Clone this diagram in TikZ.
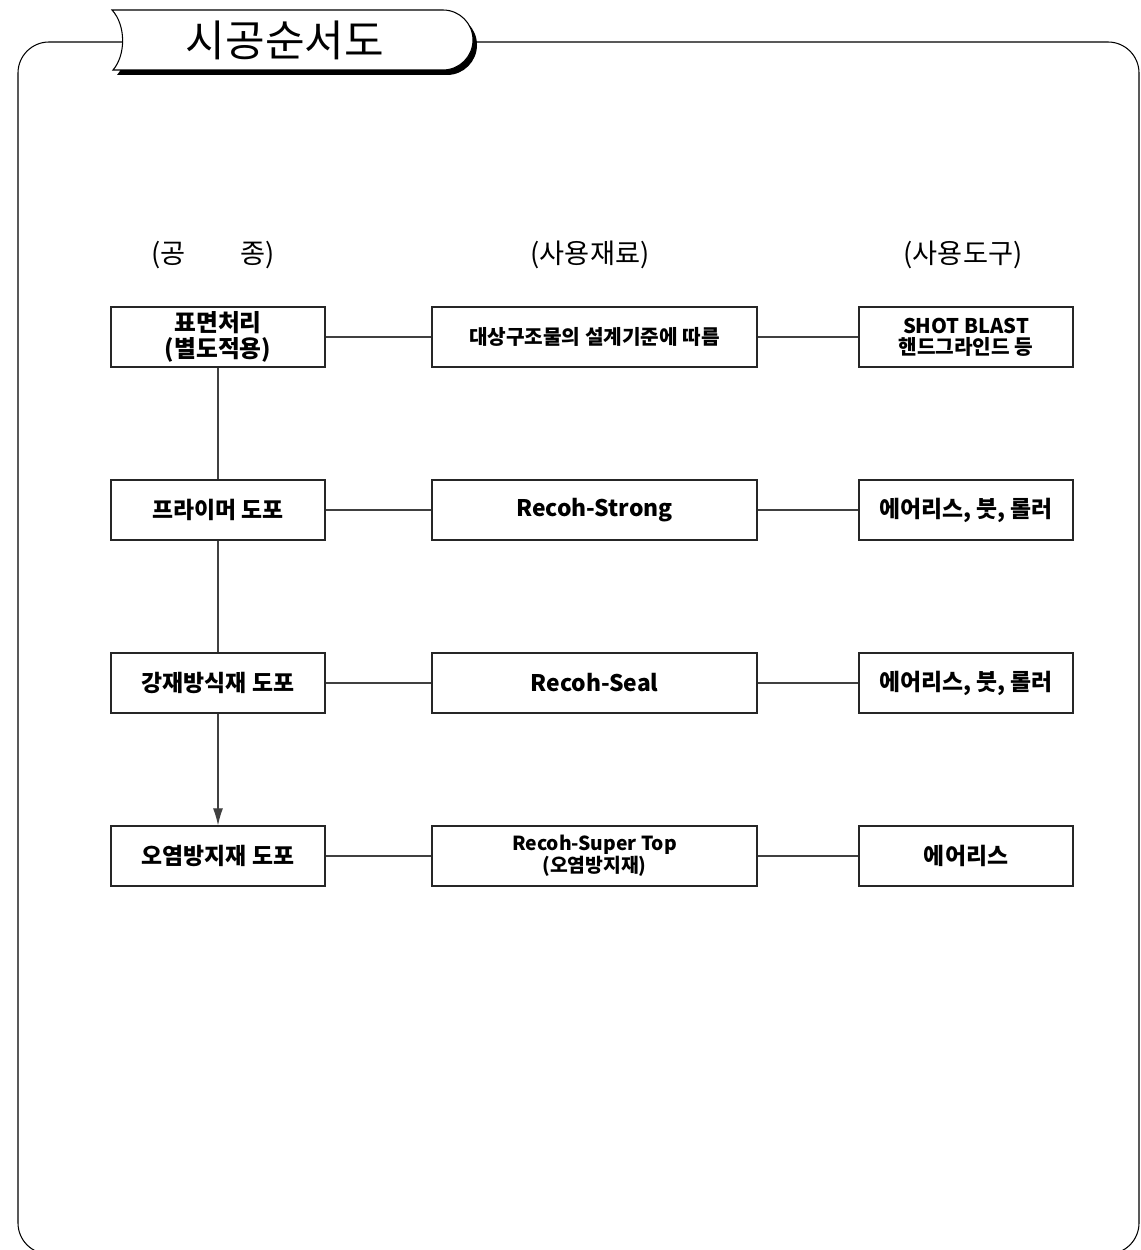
\documentclass[tikz,border=0pt]{standalone}
\usepackage{fontspec}
\setmainfont{Noto Sans CJK KR}
\usetikzlibrary{arrows.meta}
\tikzset{
  box/.style={draw=black!85, line width=0.8pt, fill=white, minimum height=1.2cm, inner sep=1pt, align=center, font=\bfseries\fontsize{13}{15}\selectfont},
  wide/.style={minimum width=6.5cm},
  narrow/.style={minimum width=4.28cm},
  conn/.style={draw=black!75, line width=0.6pt},
  head/.style={font=\fontsize{15.5}{17}\selectfont, inner sep=0pt},
}
\begin{document}
\begin{tikzpicture}[x=0.02cm, y=-0.02cm]
\useasboundingbox (0,0) rectangle (1141,1250);
% outer frame
\draw[black, line width=0.6pt, rounded corners=0.62cm] (300,42) -- (1139,42) -- (1139,1254) -- (18,1254) -- (18,42) -- cycle;
% title tab shadow
\fill[black] (116,15) -- (447,15) arc[start angle=90, end angle=-90, radius=0.6cm] -- (117,75) .. controls (130,60) and (130,30) .. (116,15) -- cycle;
% title tab
\draw[fill=white, line width=0.6pt] (112,10) -- (443,10) arc[start angle=90, end angle=-90, radius=0.6cm] -- (113,70) .. controls (126,55) and (126,25) .. (112,10) -- cycle;
\node[font=\fontsize{24.5}{26}\selectfont, inner sep=0pt] (title) at (285,40) {시공순서도};
% headers
\node[head] (h1) at (213,255) {(공\hspace{2em}종)};
\node[head] (h2) at (590,255) {(사용재료)};
\node[head] (h3) at (963,255) {(사용도구)};
% row 1
\node[box, narrow, font=\bfseries\fontsize{13.5}{14.5}\selectfont] (r1a) at (218,337) {표면처리\\(별도적용)};
\node[box, wide, font=\bfseries\fontsize{11.5}{13}\selectfont] (r1b) at (594.5,337) {대상구조물의 설계기준에 따름};
\node[box, narrow, font=\bfseries\fontsize{11.5}{12}\selectfont] (r1c) at (966,337) {SHOT BLAST\\핸드그라인드 등};
% row 2
\node[box, narrow] (r2a) at (218,510) {프라이머 도포};
\node[box, wide] (r2b) at (594.5,510) {Recoh-Strong};
\node[box, narrow] (r2c) at (966,510) {에어리스, 붓, 롤러};
% row 3
\node[box, narrow] (r3a) at (218,683) {강재방식재 도포};
\node[box, wide] (r3b) at (594.5,683) {Recoh-Seal};
\node[box, narrow] (r3c) at (966,683) {에어리스, 붓, 롤러};
% row 4
\node[box, narrow] (r4a) at (218,856) {오염방지재 도포};
\node[box, wide, font=\fontsize{11}{11}\selectfont\bfseries] (r4b) at (594.5,856) {Recoh-Super Top\\(오염방지재)};
\node[box, narrow] (r4c) at (966,856) {에어리스};
% connectors
\foreach \r in {1,2,3,4} {
  \draw[conn] (r\r a) -- (r\r b);
  \draw[conn] (r\r b) -- (r\r c);
}
\draw[conn] (r1a) -- (r2a);
\draw[conn] (r2a) -- (r3a);
\draw[conn, -{Latex[length=0.34cm, width=0.2cm]}] (r3a) -- (r4a);
\end{tikzpicture}
\end{document}
